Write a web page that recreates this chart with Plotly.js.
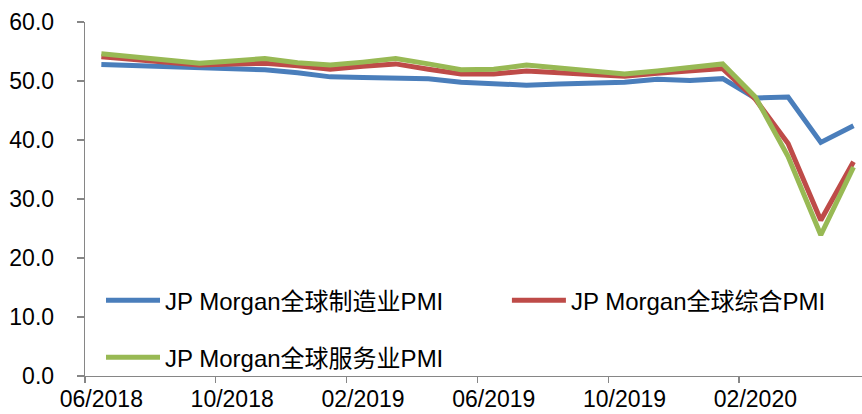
<!DOCTYPE html>
<html>
<head>
<meta charset="utf-8">
<script src="https://cdn.plot.ly/plotly-3.0.1.min.js"></script>
<style>
html, body { margin: 0; padding: 0; background: #fff; }
#chart { width: 862px; height: 414px; }
</style>
</head>
<body>
<div id="chart"></div>
<script>
var months = ["06/2018","07/2018","08/2018","09/2018","10/2018","11/2018","12/2018",
  "01/2019","02/2019","03/2019","04/2019","05/2019","06/2019","07/2019","08/2019","09/2019",
  "10/2019","11/2019","12/2019","01/2020","02/2020","03/2020","04/2020","05/2020"];

var manufacturing = [52.8, 52.6, 52.4, 52.1, 52.0, 51.9, 51.4, 50.7, 50.6, 50.5, 50.4, 49.8,
  49.5, 49.3, 49.5, 49.7, 49.8, 50.3, 50.1, 50.4, 47.1, 47.3, 39.6, 42.4];
var composite = [54.1, 53.6, 53.2, 52.7, 52.9, 53.0, 52.6, 52.0, 52.5, 52.9, 52.0, 51.2,
  51.2, 51.7, 51.4, 51.1, 50.8, 51.3, 51.6, 52.1, 46.9, 39.4, 26.4, 36.3];
var services = [54.6, 54.1, 53.6, 53.0, 53.4, 53.8, 53.1, 52.7, 53.2, 53.8, 52.9, 51.9,
  52.0, 52.7, 52.2, 51.6, 51.2, 51.7, 52.2, 52.9, 47.3, 37.2, 23.9, 35.4];

var names = ["JP Morgan全球制造业PMI", "JP Morgan全球综合PMI", "JP Morgan全球服务业PMI"];
var colors = ["#4A7EBB", "#BE4B48", "#98B954"];

var FONT = "Liberation Sans, Arial, Noto Sans CJK SC, sans-serif";

var traces = [
  {x: months, y: manufacturing, name: names[0], type: "scatter", mode: "lines",
   line: {color: colors[0], width: 5}, legend: "legend"},
  {x: months, y: composite, name: names[1], type: "scatter", mode: "lines",
   line: {color: colors[1], width: 5}, legend: "legend2"},
  {x: months, y: services, name: names[2], type: "scatter", mode: "lines",
   line: {color: colors[2], width: 5}, legend: "legend3"}
];

function leg(x, y) {
  return {
    orientation: "h",
    x: x, xanchor: "left",
    y: y, yanchor: "middle",
    itemwidth: 54,
    bgcolor: "rgba(0,0,0,0)", borderwidth: 0,
    font: {family: FONT, size: 24, color: "#000"}
  };
}

var layout = {
  width: 862, height: 414,
  margin: {l: 85, r: 0, t: 22, b: 38, pad: 0},
  paper_bgcolor: "#ffffff", plot_bgcolor: "#ffffff",
  font: {family: FONT, size: 23, color: "#000000"},
  showlegend: true,
  xaxis: {
    type: "category",
    range: [-0.5, 23.26],
    tickmode: "linear", tick0: 0, dtick: 4,
    tickson: "boundaries",
    tickangle: 0,
    ticks: "outside", ticklen: 6, tickwidth: 1.3, tickcolor: "#868686",
    showline: true, linecolor: "#868686", linewidth: 1.3,
    showgrid: false, zeroline: false,
    tickfont: {family: FONT, size: 23, color: "#000"},
    ticklabelstandoff: 2
  },
  yaxis: {
    range: [0, 60], tickmode: "linear", tick0: 0, dtick: 10,
    tickformat: ".1f",
    ticks: "outside", ticklen: 7, tickwidth: 1.3, tickcolor: "#868686",
    showline: true, linecolor: "#868686", linewidth: 1.3,
    showgrid: false, zeroline: false,
    tickfont: {family: FONT, size: 23, color: "#000"},
    ticklabelstandoff: 18
  },
  legend: leg(0.0206, 0.213),
  legend2: leg(0.543, 0.213),
  legend3: leg(0.0206, 0.052)
};

Plotly.newPlot("chart", traces, layout, {displayModeBar: false, staticPlot: true});
</script>
</body>
</html>
